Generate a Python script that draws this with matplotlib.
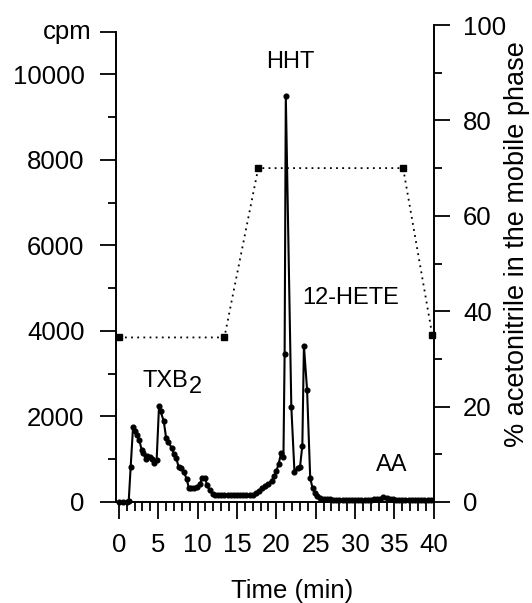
import matplotlib
matplotlib.use("Agg")
import matplotlib.pyplot as plt

plt.rcParams['font.family'] = ['Liberation Sans', 'DejaVu Sans']

# radioactivity trace (time in min, cpm)
time_min = [0.0, 0.5, 1.0, 1.25, 1.5, 1.8, 2.1, 2.3, 2.6, 2.9, 3.1, 3.4, 3.6,
            3.9, 4.2, 4.5, 4.8, 5.1, 5.3, 5.7, 6.0, 6.3, 6.7, 7.0, 7.3, 7.6,
            7.95, 8.25, 8.6, 8.9, 9.2, 9.6, 9.9, 10.3, 10.6, 10.95, 11.2,
            11.55, 11.9, 12.2, 12.6, 13.0, 13.4, 13.8, 14.2, 14.6, 15.0, 15.4,
            15.8, 16.2, 16.6, 17.0, 17.4, 17.8, 18.2, 18.6, 19.0, 19.4, 19.7,
            20.0, 20.3, 20.6, 20.9, 21.05, 21.2, 21.9, 22.3, 22.7, 23.0, 23.3,
            23.5, 23.9, 24.3, 24.6, 24.9, 25.2, 25.6, 26.0, 26.4, 26.8, 27.2,
            27.6, 28.0, 28.4, 28.8, 29.2, 29.6, 30.0, 30.4, 30.8, 31.2, 31.6,
            32.0, 32.4, 32.8, 33.2, 33.6, 34.0, 34.4, 34.8, 35.2, 35.6, 36.0,
            36.4, 36.8, 37.2, 37.6, 38.0, 38.4, 38.8, 39.2, 39.6]
cpm = [0, 0, 0, 20, 820, 1750, 1650, 1570, 1440, 1220, 1140, 1000, 1080,
       1060, 1000, 910, 990, 2250, 2120, 1890, 1500, 1410, 1260, 1120, 1020, 810,
       790, 710, 540, 320, 330, 330, 350, 430, 560, 560, 390,
       270, 195, 170, 170, 165, 160, 160, 160, 160, 160, 160,
       160, 155, 160, 170, 210, 260, 320, 380, 430, 500, 600,
       720, 900, 1140, 1060, 3450, 9500, 2230, 700, 800, 810, 1320,
       3650, 2630, 560, 320, 200, 130, 90, 70, 60, 60, 55,
       55, 55, 55, 55, 55, 55, 55, 55, 55, 55, 55,
       55, 60, 60, 70, 110, 100, 70, 60, 55, 55, 55,
       55, 55, 55, 55, 55, 55, 55, 55, 55]

# acetonitrile gradient (time in min, %)
grad_time = [0.0, 13.4, 17.7, 36.1, 39.8]
grad_pct = [34.5, 34.5, 70.0, 70.0, 35.0]

peak_names = ['HHT', '12-HETE', 'AA']
peak_pos = [(21.8, 10300), (29.45, 4770), (34.6, 855)]

fs = 18.5   # tick labels, axis titles
fs_lab = 17  # peak names

fig = plt.figure(figsize=(5.32, 6.03), dpi=100)
# left axis tops out at 11000 cpm, right axis at 100 % a bit higher
ax = fig.add_axes([0.2175, 0.1675, 0.598, 0.78])
ax2 = fig.add_axes([0.2175, 0.1675, 0.598, 0.791], sharex=ax)
ax2.patch.set_visible(False)

ax.plot(time_min, cpm, color='black', lw=1.5, marker='o', ms=3.4,
        clip_on=False, zorder=3)
ax2.plot(grad_time, grad_pct, color='black', lw=1.3, linestyle=(0, (1, 2.4)),
         marker='s', ms=3.8, clip_on=False)

ax.set_xlim(-0.4, 40.0)
ax.set_ylim(0, 11000)
ax2.set_ylim(0, 100)

ax.set_xticks(range(0, 41, 5))
ax.set_xticks(range(0, 41, 1), minor=True)
ax.set_yticks(list(range(0, 10001, 2000)) + [11000])
ax.set_yticklabels([str(v) for v in range(0, 10001, 2000)] + [''])
ax.set_yticks(range(1000, 10000, 2000), minor=True)
ax2.yaxis.tick_right()
ax2.set_yticks(range(0, 101, 20))
ax2.set_yticks(range(10, 100, 20), minor=True)
ax2.tick_params(axis='x', which='both', bottom=False, labelbottom=False)

for a in (ax, ax2):
    a.spines['top'].set_visible(False)
    for s in a.spines.values():
        s.set_linewidth(1.4)
    a.tick_params(which='major', direction='out', length=11.5, width=1.3,
                  labelsize=fs, pad=11)
    a.tick_params(which='minor', direction='out', length=5.5, width=1.3)
ax.spines['right'].set_visible(False)
ax2.spines['left'].set_visible(False)
ax2.spines['bottom'].set_visible(False)
ax2.tick_params(axis='y', which='major', pad=9.5)
ax.tick_params(axis='x', which='major', length=12, pad=10)
ax.tick_params(axis='x', which='minor', length=6.5)

fig.text(92 / 532, 1 - 31.7 / 603, 'cpm', fontsize=fs, ha='right',
         va='center')
fig.text(292.5 / 532, 1 - 591 / 603, 'Time (min)', fontsize=fs,
         ha='center', va='center')
fig.text(517 / 532, 1 - 244 / 603, '% acetonitrile in the mobile phase',
         fontsize=19.5, rotation=90, ha='center', va='center')

for name, (px, py) in zip(peak_names, peak_pos):
    ax.text(px, py, name, fontsize=fs_lab, ha='center', va='center')
ax.text(3.05, 2830, 'TXB', fontsize=fs_lab, ha='left', va='center')
ax.text(8.95, 2700, '2', fontsize=fs_lab, ha='left', va='center')

fig.savefig('out.png', dpi=100)
